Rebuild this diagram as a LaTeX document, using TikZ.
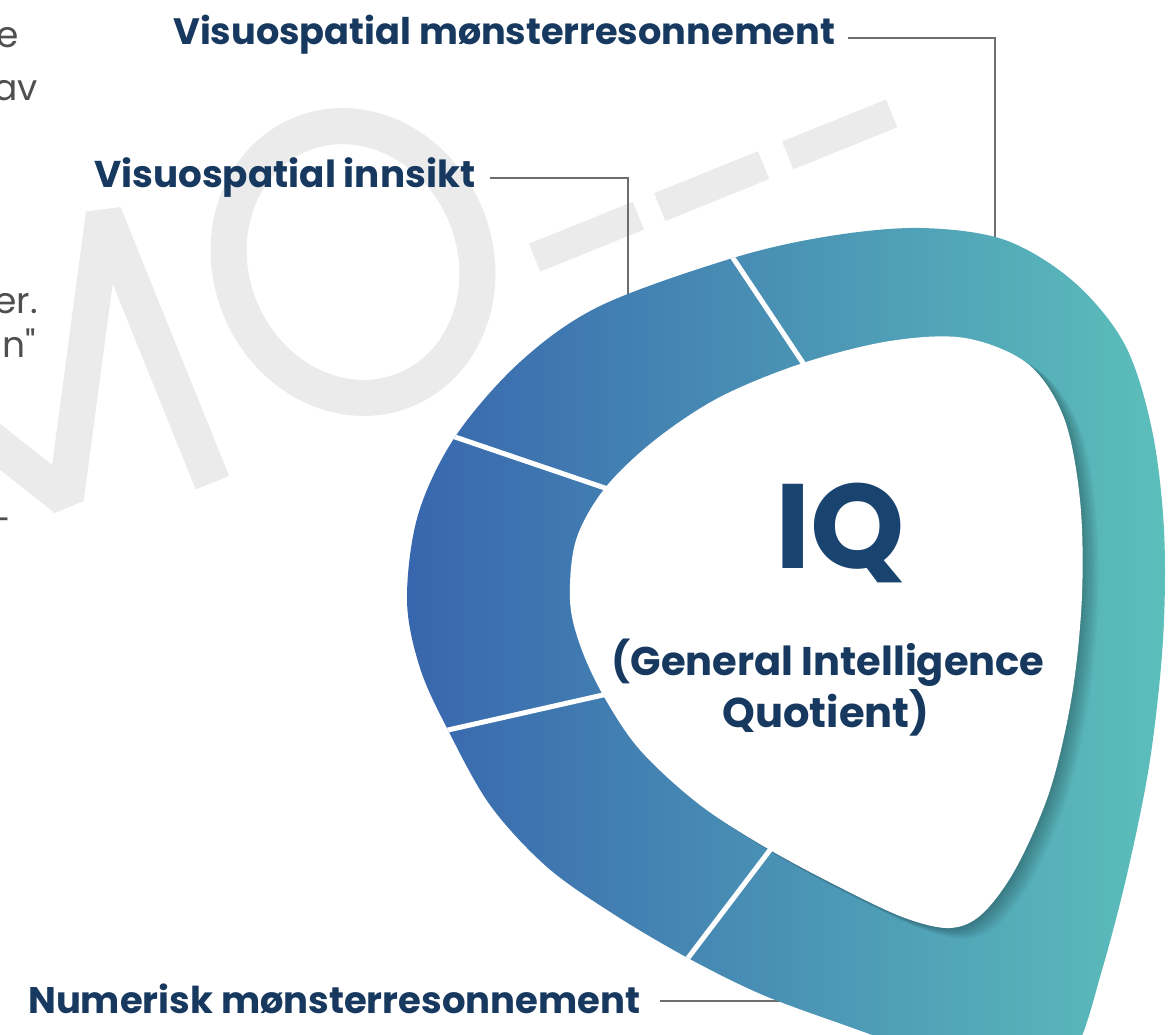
\documentclass[tikz,border=0pt]{standalone}
\usepackage{fontspec}
\usepackage{graphicx}
\setmainfont{Poppins}
\newfontfamily\bodyfont{Poppins}[Ligatures=TeXOff]
\usetikzlibrary{calc}
\definecolor{navy}{HTML}{17395F}
\definecolor{iqnavy}{HTML}{1A4470}
\definecolor{ringL}{HTML}{3866AE}
\definecolor{ringR}{HTML}{5CBFBB}
\definecolor{wmgray}{HTML}{EBEBEB}
\definecolor{conngray}{HTML}{6E6E6E}
\definecolor{bodygray}{HTML}{4F4F4F}
\newcommand\ringouter{plot[smooth cycle,tension=0.55] coordinates {(407,600) (418,515) (455,437) (520,362) (600,306) (733,258) (830,236) (921,228) (1005,240) (1074,282) (1125,345) (1152,430) (1164,530) (1163,640) (1150,760) (1128,870) (1102,970) (1075,1050) (1030,1085) (950,1062) (850,1027) (763,995) (688,958) (615,915) (547,867) (490,805) (448,730) (420,668)}}
\newcommand\ringinner{plot[smooth cycle,tension=0.55] coordinates {(570,600) (576,540) (605,488) (655,440) (720,397) (803,363) (890,341) (965,338) (1028,364) (1064,418) (1080,500) (1082,595) (1072,695) (1050,790) (1016,868) (982,914) (950,928) (905,918) (845,890) (770,850) (700,805) (640,750) (603,695) (580,645)}}
\tikzset{
  lbl/.style={text=navy, inner sep=0pt, font=\bfseries},
  conn/.style={draw=conngray, line width=1.8pt},
  sepline/.style={draw=white, line width=5pt},
  wmark/.style={draw=wmgray, line width=36pt},
  bodytxt/.style={text=bodygray, inner sep=0pt, font=\bodyfont\fontsize{36}{42}\selectfont},
}
\begin{document}
\begin{tikzpicture}[x=1pt,y=-1pt]
\useasboundingbox (0,0) rectangle (1172,1035);
\fill[white] (0,0) rectangle (1172,1035);
\clip (0,0) rectangle (1172,1035);

% watermark
\begin{scope}[shift={(353,262)}, rotate=22]
  \draw[wmark] (0,0) ellipse [x radius=122pt, y radius=138pt];
  \draw[wmark, line join=miter, miter limit=2] (-497,152) -- (-497,-138) -- (-355,112) -- (-213,-138) -- (-213,152);
  \fill[wmgray] (170,49) rectangle (282,79);
  \fill[wmgray] (305,49) rectangle (417,79);
  \fill[wmgray] (443,49) rectangle (555,79);
\end{scope}

% cut-off body text at the left edge
\node[bodytxt, anchor=base east] (b1) at (19,48) {e};
\node[bodytxt, anchor=base east] (b2) at (38,101) {av};
\node[bodytxt, anchor=base east] (b3) at (38,313) {er.};
\node[bodytxt, anchor=base east] (b4) at (36,357) {n"};
\node[bodytxt, anchor=base east] (b5) at (12,532) {-};

% labels
\node[lbl, anchor=base west] (l1) at (173,45) {\resizebox{662pt}{!}{Visuospatial mønsterresonnement}};
\node[lbl, anchor=base west] (l2) at (94,188) {\resizebox{381pt}{!}{Visuospatial innsikt}};
\node[lbl, anchor=base west] (l3) at (28,1013) {\resizebox{612pt}{!}{Numerisk mønsterresonnement}};

\coordinate (r1) at (995,252);
\coordinate (r2) at (628,312);
\coordinate (r3) at (790,1001);
\draw[conn] ($(l1.base east)+(13,-7)$) -| (r1);
\draw[conn] ($(l2.base east)+(15,-10)$) -| (r2);
\draw[conn] ($(l3.base east)+(20,-12)$) -- (r3);

% ring
\shade[left color=ringL, right color=ringR] \ringouter;
\begin{scope}
  \clip \ringouter;
  \foreach \k in {1,...,9}
    \fill[black, opacity=0.032, shift={(1.8*\k,1.2*\k)}] \ringinner;
  \coordinate (s1i) at (803,363); \coordinate (s1o) at (733,258);
  \coordinate (s2i) at (605,488); \coordinate (s2o) at (455,437);
  \coordinate (s3i) at (603,695); \coordinate (s3o) at (448,730);
  \coordinate (s4i) at (770,850); \coordinate (s4o) at (688,958);
  \foreach \s in {1,2,3,4}
    \draw[sepline] ($(s\s i)!-0.15!(s\s o)$) -- ($(s\s o)!-0.15!(s\s i)$);
\end{scope}
\fill[white] \ringinner;

% centre text
\node[text=iqnavy, anchor=base, inner sep=0pt, font=\bfseries\fontsize{120}{120}\selectfont] (iq) at (840,568) {IQ};
\node[lbl, anchor=base] (g1) at (828,675) {\resizebox{433pt}{!}{(General Intelligence}};
\node[lbl, anchor=base, font=\bfseries\fontsize{41.6}{50}\selectfont] (g2) at (826,727) {Quotient)};
\end{tikzpicture}
\end{document}
